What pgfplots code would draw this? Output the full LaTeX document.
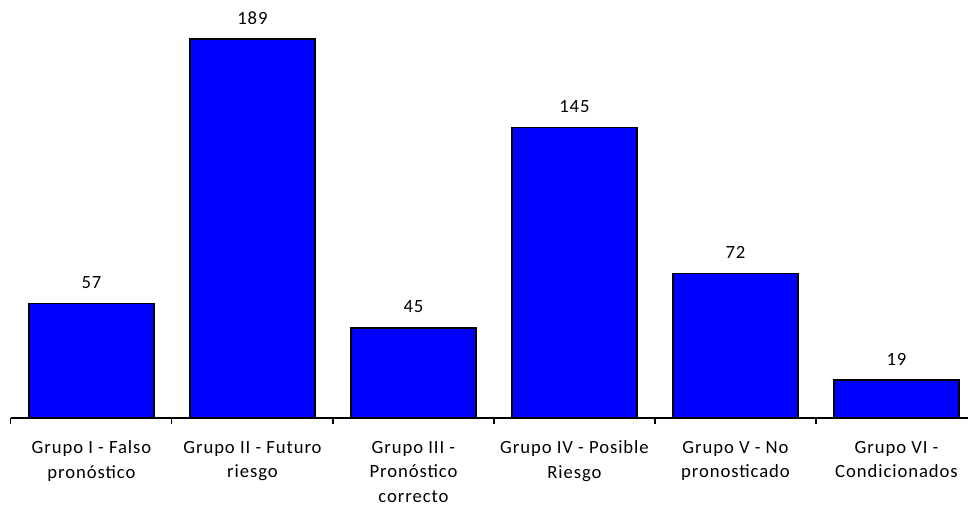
\documentclass[border=0pt]{standalone}
\usepackage{pgfplots}
\pgfplotsset{compat=1.18}
\usepackage{fontspec}
\setmainfont[LetterSpace=5]{Carlito}
\begin{document}
\begin{tikzpicture}
\begin{axis}[
 scale only axis,
 width=724.5pt, height=313.5pt,
 xmin=-0.5, xmax=5.5, ymin=0, ymax=208.5,
 axis y line=none,
 axis x line*=bottom,
 axis line style={black, line width=0.8pt, -},
 /pgf/number format/assume math mode=true,
 ybar, bar width=0.776,
 xtick={0,...,5},
 xticklabels={{Grupo I - Falso\\pronóstico},{Grupo II - Futuro\\riesgo},{Grupo III -\\Pronóstico\\correcto},{Grupo IV - Posible\\Riesgo},{Grupo V - No\\pronosticado},{Grupo VI -\\Condicionados}},
 major tick length=0pt,
 minor xtick={-0.5,0.5,...,5.5},
 minor tick length=4.5pt,
 tick align=outside,
 tick style={black, line width=0.8pt},
 xticklabel style={align=center, font=\fontsize{14}{18.5}\selectfont, inner sep=0pt, yshift=-17pt},
 nodes near coords,
 nodes near coords style={font=\fontsize{14}{17}\selectfont, anchor=south, inner sep=0pt, yshift=10.5pt, black},
 clip=false,
]
\addplot[fill=blue, draw=black, line width=1.1pt] coordinates {(0,57) (1,189) (2,45) (3,145) (4,72) (5,19)};
\coordinate (bl) at (axis cs:-0.568,-46.9);
\coordinate (tr) at (axis cs:5.444,208.5);
\end{axis}
\pgfresetboundingbox
\useasboundingbox (bl) rectangle (tr);
\end{tikzpicture}
\end{document}
